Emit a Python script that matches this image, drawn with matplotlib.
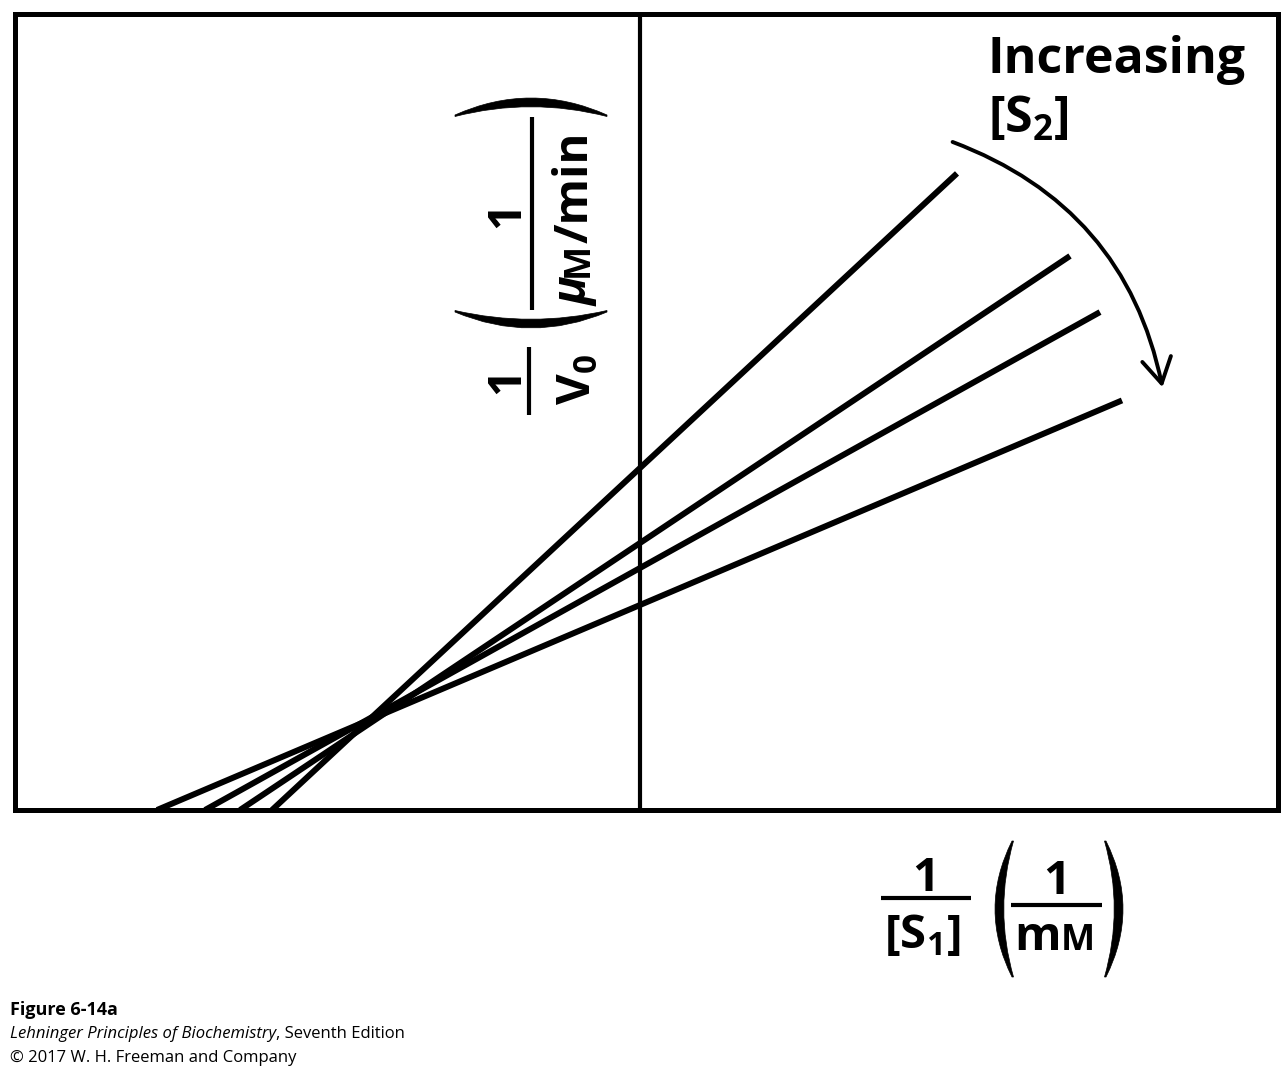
import matplotlib
matplotlib.use("Agg")
import matplotlib.pyplot as plt
from matplotlib.patches import FancyArrowPatch, PathPatch
from matplotlib.path import Path
from matplotlib.lines import Line2D

plt.rcParams['font.family'] = ['Open Sans', 'DejaVu Sans']
plt.rcParams['mathtext.fontset'] = 'custom'
plt.rcParams['mathtext.rm'] = 'Open Sans'
plt.rcParams['mathtext.bf'] = 'Open Sans:bold'
plt.rcParams['mathtext.it'] = 'Open Sans:italic'

# Lineweaver-Burk lines: 1/v = slope * 1/[S1] + 1/Vmax, one line per [S2]
x_intercepts = [-3.68, -4.00, -4.35, -4.83]   # where each line meets the bottom
y_intercepts = [3.42, 2.67, 2.42, 2.05]       # value at 1/[S1] = 0
x_ends = [3.17, 4.30, 4.60, 4.82]

W, H = 1286, 1072
fig = plt.figure(figsize=(W / 100, H / 100), dpi=100)
ax = fig.add_axes([15 / W, 262 / H, 1263 / W, 796 / H])
ax.set_xlim(-6.25, 6.38)
ax.set_ylim(0, 7.96)
ax.set_xticks([])
ax.set_yticks([])
for s in ax.spines.values():
    s.set_linewidth(3.6)

ax.axvline(0, color='black', lw=3.0)

for x0, b, xe in zip(x_intercepts, y_intercepts, x_ends):
    slope = -b / x0
    ax.plot([x0, xe], [0, b + slope * xe], color='black', lw=4.3,
            solid_capstyle='butt')

arrow = FancyArrowPatch((3.10, 6.69), (5.23, 4.20),
                        connectionstyle='arc3,rad=-0.28',
                        arrowstyle='->,head_length=12,head_width=7',
                        color='black', lw=2.8, mutation_scale=1.5)
ax.add_patch(arrow)

ax.text(988 / W, 1 - 60 / H, 'Increasing', transform=fig.transFigure,
        fontsize=36, fontweight='bold', ha='left', va='center')
ax.text(988 / W, 1 - 120 / H, r'[S$_\mathbf{2}$]', transform=fig.transFigure,
        fontsize=36, fontweight='bold', ha='left', va='center')


# ---- helpers working in reference pixels (y from top) ----
def fx(x):
    return x / W


def fy(y):
    return 1 - y / H


def bar(x0, y0, x1, y1, lw=3.0):
    fig.add_artist(Line2D([fx(x0), fx(x1)], [fy(y0), fy(y1)], lw=lw,
                          color='black', solid_capstyle='butt'))


def paren(cx, cy, length, bulge, thick, vertical=True):
    # crescent shaped bracket; bulge > 0 bows right (vertical) or down
    if vertical:
        p = lambda a, b: (fx(cx + b), fy(cy + a))
    else:
        p = lambda a, b: (fx(cx + a), fy(cy + b))
    L = length / 2
    sgn = 1 if bulge > 0 else -1
    t0 = 1.5 * sgn
    verts = [p(-L, 0), p(0, 2 * bulge), p(L, 0),
             p(L, -t0), p(0, 2 * (bulge - sgn * thick)), p(-L, -t0), p(-L, 0)]
    codes = [Path.MOVETO, Path.CURVE3, Path.CURVE3,
             Path.LINETO, Path.CURVE3, Path.CURVE3, Path.CLOSEPOLY]
    fig.add_artist(PathPatch(Path(verts, codes), transform=fig.transFigure,
                             facecolor='black', edgecolor='black', lw=0.5))


FS = 34
SMALL = 26

# ---- x label: 1/[S1] (1/mM) ----
fig.text(fx(926), fy(891), '1', fontsize=FS, fontweight='bold',
         ha='center', va='baseline')
bar(881, 898, 971, 898, lw=3.0)
fig.text(fx(922), fy(948), r'[S$_\mathbf{1}$]', fontsize=FS,
         fontweight='bold', ha='center', va='baseline')
paren(1012, 909, 136, -17, 8, vertical=True)
paren(1106, 909, 136, 17, 8, vertical=True)
fig.text(fx(1057), fy(894), '1', fontsize=FS, fontweight='bold',
         ha='center', va='baseline')
bar(1011, 905, 1102, 905, lw=3.0)
m_txt = fig.text(fx(1014), fy(950), 'm', fontsize=FS, fontweight='bold',
                 ha='left', va='baseline')
ax.annotate('M', xy=(1.0, fy(950)), xycoords=(m_txt, 'figure fraction'),
            fontsize=SMALL, fontweight='bold', ha='left', va='baseline',
            annotation_clip=False)

# ---- y label: 1/V0 (1/(uM/min)), reading bottom to top ----
rot = dict(rotation=90, rotation_mode='anchor')
fig.text(fx(519), fy(380), '1', fontsize=FS, fontweight='bold',
         ha='center', va='baseline', **rot)
bar(529, 347, 529, 415, lw=3.0)
fig.text(fx(590), fy(380), r'V$_\mathbf{0}$', fontsize=FS, fontweight='bold',
         ha='center', va='baseline', **rot)
paren(531, 312, 152, 16, 8, vertical=False)
paren(531, 115, 152, -17, 8, vertical=False)
fig.text(fx(519), fy(215), '1', fontsize=FS, fontweight='bold',
         ha='center', va='baseline', **rot)
bar(532, 117, 532, 310, lw=3.0)
mu = fig.text(fx(588), fy(306), '\u03bc', fontsize=FS, fontweight='bold',
              style='italic', ha='left', va='baseline', **rot)
mM = ax.annotate('M', xy=(fx(588), 1.0), xycoords=('figure fraction', mu),
                 fontsize=SMALL, fontweight='bold', ha='left', va='baseline',
                 annotation_clip=False, **rot)
ax.annotate('/min', xy=(fx(588), 1.0), xycoords=('figure fraction', mM),
            fontsize=FS, fontweight='bold', ha='left', va='baseline',
            annotation_clip=False, **rot)

# ---- footer ----
fig.text(fx(10), fy(1010), 'Figure 6-14a', fontsize=13, fontweight='bold',
         va='center')
book = fig.text(fx(10), fy(1034), 'Lehninger Principles of Biochemistry',
                fontsize=12, style='italic', va='center')
ax.annotate(', Seventh Edition', xy=(1.0, fy(1034)),
            xycoords=(book, 'figure fraction'), fontsize=12, va='center',
            annotation_clip=False)
fig.text(fx(10), fy(1058), '\u00a9 2017 W. H. Freeman and Company',
         fontsize=12, va='center')

fig.savefig('out.png', dpi=100)
